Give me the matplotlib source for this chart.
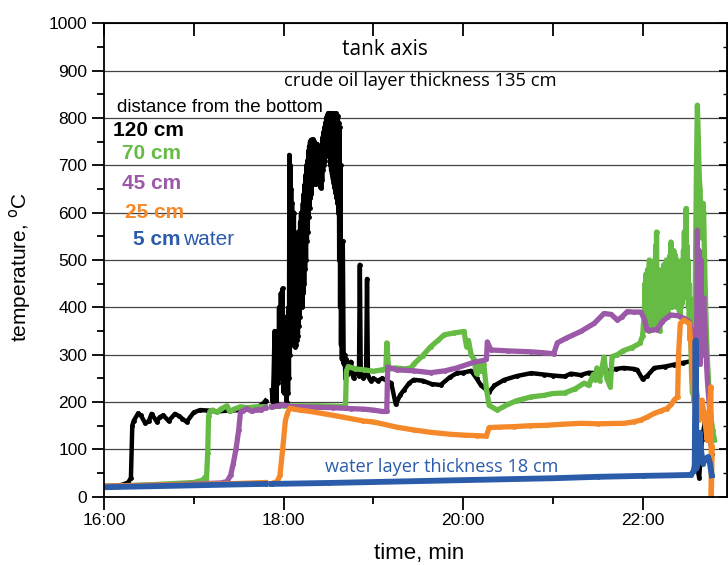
import numpy as np
import matplotlib
matplotlib.use("Agg")
import matplotlib.pyplot as plt
from matplotlib.ticker import MultipleLocator, FuncFormatter

# time in hours (16.5 = 16:30), temperature in degC; nan = gap in the record
t_120 = [16.0, 16.1, 16.2, 16.27, 16.3, 16.315, 16.33, 16.38, 16.41, 16.46, 16.5, 16.53, 16.59, 16.62,
         16.66, 16.72, 16.79, 16.84, 16.87, 16.92, 17.0, 17.07, 17.16, 17.25, 17.4, 17.55, 17.66, 17.72,
         17.78, 17.8, 17.84,
         17.87, 17.88, 17.89, 17.90, 17.905, 17.91, 17.92, 17.93, 17.94, 17.95, 17.96, 17.97, 17.98, 17.99,
         18.00, 18.01, 18.02, 18.03, 18.035]
v_120 = [22, 23, 25, 30, 40, 150, 160, 176, 172, 155, 160, 175, 158, 168,
         172, 160, 175, 170, 165, 158, 178, 183, 182, 180, 182, 183, 185, 190,
         198, 203, np.nan,
         225, 200, 260, 350, 220, 300, 200, 280, 240, 400, 250, 430, 280, 440,
         220, 380, 230, 350, 200]
# densest part of the record, logged every 0.005 h (18.04 ... 18.65)
t_120 += list(np.round(np.arange(18.04, 18.6501, 0.005), 3))
v_120 += [230, 380, 220, 400, 250, 722, 300, 700, 400, 650, 350, 620, 330, 580, 320, 600, 340, 520,
          316, 540, 320, 500, 330, 540, 340, 560, 360, 520, 380, 580, 400, 600, 420, 580, 400, 620,
          430, 640, 450, 660, 480, 680, 500, 700, 540, 710, 560, 730, 590, 740, 610, 750, 630, 754,
          640, 750, 660, 755, 670, 752, 660, 748, 665, 745, 660, 740, 670, 745, 680, 740, 670, 730,
          660, 720, 655, 730, 652, 740, 670, 760, 690, 770, 700, 780, 710, 790, 720, 800, 730, 805,
          740, 810, 730, 808, 720, 810, 700, 805, 690, 810, 680, 806, 670, 810, 660, 805, 650, 808,
          640, 810, 630, 800, 620, 805, 600, 790, 500, 780, 400, 700, 320, 500, 290]
t_120 += [18.66, 18.67, 18.68, 18.69, 18.70, 18.72, 18.75, 18.78, 18.81, 18.84, 18.85, 18.86, 18.89,
          18.92, 18.93, 18.94, 18.97,
          19.0, 19.05, 19.1, 19.15, 19.2, 19.25, 19.3, 19.34, 19.4, 19.45, 19.55, 19.65, 19.75, 19.85,
          19.93, 20.0, 20.09, 20.15, 20.2, 20.29, 20.35, 20.46, 20.6, 20.76, 20.9, 21.0, 21.13, 21.2,
          21.31, 21.4, 21.49, 21.6, 21.7, 21.79, 21.9, 21.94, 22.0, 22.05, 22.13, 22.25, 22.35, 22.45,
          22.54, 22.58, 22.59, 22.60, 22.61, 22.63, 22.66, 22.7, 22.74, 22.77]
v_120 += [540, 280, 300, 250, 290, 260, 285, 250, 270, 255, 490, 265, 250,
          270, 460, 255, 245,
          250, 245, 250, 245, 240, 195, 215, 225, 240, 247, 245, 238, 236, 252,
          261, 262, 266, 250, 235, 221, 235, 247, 255, 261, 258, 256, 254, 260,
          257, 262, 261, 265, 270, 272, 270, 268, 248, 255, 272, 275, 279, 283,
          286, 285, 510, 200, 60, 40, 120, 165, 150, 90]

t_70 = [16.0, 16.5, 17.0, 17.1, 17.13, 17.14, 17.155, 17.165, 17.18, 17.21, 17.26, 17.3, 17.37, 17.4,
        17.45, 17.52, 17.6, 17.7, 17.8, 17.84,
        17.87, 18.0, 18.2, 18.4, 18.6, 18.69, 18.7, 18.72, 18.8, 18.9, 19.0, 19.1, 19.14, 19.15, 19.17,
        19.25, 19.35, 19.42, 19.45, 19.55, 19.64, 19.72, 19.79, 19.9, 20.01, 20.04, 20.06, 20.09, 20.12,
        20.15, 20.18, 20.2, 20.23, 20.26, 20.29, 20.38, 20.5, 20.6, 20.76, 20.9, 21.0, 21.13, 21.25, 21.35,
        21.4, 21.45, 21.47, 21.49, 21.52, 21.57, 21.6, 21.64, 21.66, 21.72, 21.78, 21.88, 21.97, 22.0,
        22.01]
v_70 = [22, 25, 30, 35, 42, 30, 92, 170, 180, 183, 178, 185, 192, 180,
        185, 190, 188, 190, 190, np.nan,
        190, 192, 192, 192, 191, 190, 265, 275, 270, 268, 265, 268, 270, 325, 270,
        272, 270, 272, 280, 298, 317, 330, 342, 346, 349, 316, 330, 300, 290,
        260, 285, 265, 280, 228, 193, 183, 195, 203, 211, 214, 218, 219, 228, 240,
        235, 258, 247, 272, 245, 295, 250, 232, 296, 300, 308, 315, 324, 340,
        366]
# burning phase, logged every 0.005 h (22.02 ... 22.555)
t_70 += list(np.round(np.arange(22.02, 22.5551, 0.005), 3))
v_70 += [380, 450, 360, 470, 400, 437, 370, 480, 390,
         460, 350, 500, 380, 470, 360, 490, 400,
         450, 370, 480, 390, 440, 360, 500, 420, 530, 400,
         559, 410, 480, 380, 460, 366, 440, 350, 470, 380,
         450, 390, 480, 370, 460, 400, 490, 380, 470, 410,
         451, 390, 500, 400, 470, 380, 490, 420, 480, 400,
         510, 430, 538, 420, 500, 400, 480, 430, 520, 410,
         490, 420, 510, 440, 465, 400, 500, 420, 480, 400,
         470, 390, 450, 380, 480, 400, 460, 409, 500, 420,
         520, 440, 560, 450, 540, 430, 609, 470, 530, 420,
         500, 400, 450, 366, 420, 330, 380, 300, 260, 240, 219]
t_70 += [22.565, 22.58, 22.59, 22.60, 22.61, 22.62, 22.63, 22.64, 22.65, 22.66, 22.67, 22.68, 22.69,
         22.70, 22.71, 22.72, 22.74, 22.76, 22.78, 22.80]
v_70 += [260, 350, 500, 700, 827, 760, 680, 648, 580, 547, 620, 600, 500,
         420, 350, 296, 220, 170, 140, 120]

t_45 = [16.0, 16.5, 17.0, 17.3, 17.37, 17.41, 17.44, 17.47, 17.5, 17.52, 17.55, 17.59, 17.65, 17.7,
        17.75, 17.8, 17.84,
        17.87, 17.95, 17.99, 18.1, 18.18, 18.35, 18.55, 18.75, 18.89, 19.0, 19.1, 19.15, 19.16, 19.26,
        19.45, 19.64, 19.8, 19.93, 20.12, 20.23, 20.26, 20.27, 20.31, 20.5, 20.76, 20.9, 21.01, 21.05,
        21.15, 21.31, 21.46, 21.57, 21.65, 21.72, 21.77, 21.83, 21.9, 21.98, 22.02, 22.05, 22.1, 22.16,
        22.22, 22.31, 22.4, 22.46, 22.52, 22.56, 22.58, 22.6, 22.61, 22.62, 22.63, 22.64, 22.65, 22.66,
        22.68, 22.7, 22.72, 22.74, 22.76]
v_45 = [22, 24, 27, 29, 32, 45, 70, 100, 140, 178, 182, 186, 180, 184,
        183, 188, np.nan,
        190, 192, 194, 190, 190, 189, 188, 186, 185, 183, 180, 180, 274, 268,
        266, 262, 266, 272, 284, 288, 290, 327, 310, 308, 306, 304, 302, 325,
        335, 349, 366, 387, 385, 373, 380, 391, 390, 390, 375, 352, 352, 353,
        370, 384, 382, 377, 370, 340, 317, 280, 563, 300, 520, 280, 500, 300,
        420, 330, 250, 200, 150]

t_25 = [16.0, 16.5, 17.0, 17.5, 17.8, 17.84,
        17.87, 17.93, 17.96, 17.99, 18.02, 18.04, 18.07, 18.12, 18.18, 18.3, 18.55, 18.89, 19.0, 19.26,
        19.45, 19.64, 19.85, 20.01, 20.15, 20.26, 20.29, 20.4, 20.57, 20.75, 20.94, 21.1, 21.31, 21.5,
        21.79, 21.9, 21.98, 22.05, 22.13, 22.2, 22.27, 22.32, 22.35, 22.39, 22.4, 22.42, 22.46, 22.49,
        22.52, 22.55, 22.57, 22.59, 22.61, 22.63, 22.66, 22.68, 22.72, 22.74, 22.76, 22.765, 22.775]
v_25 = [22, 24, 26, 28, 30, np.nan,
        28, 32, 45, 100, 160, 175, 187, 185, 183, 180, 172, 160, 158, 147,
        141, 136, 132, 130, 129, 128, 146, 147, 148, 150, 151, 153, 155, 154,
        155, 158, 162, 168, 176, 181, 186, 195, 204, 211, 300, 366, 373, 370,
        366, 290, 200, 240, 211, 162, 204, 180, 119, 170, 232, 0, 105]

t_5 = [16.0, 16.5, 17.0, 17.5, 17.8, 17.84,
       17.87, 18.5, 19.0, 19.5, 20.0, 20.5, 21.0, 21.5, 22.0, 22.3, 22.54, 22.57, 22.58, 22.59, 22.595,
       22.60, 22.62, 22.64, 22.65, 22.67, 22.7, 22.73, 22.75, 22.77]
v_5 = [20, 22, 24, 26, 27, np.nan,
       27, 29, 31, 33, 35, 37, 39, 42, 44, 45, 46, 55, 66, 330, 183,
       60, 125, 135, 100, 70, 80, 84, 70, 45]

series = [
    (t_120, v_120, "black", 3.2),
    (t_70, v_70, "#66bb44", 3.8),
    (t_45, v_45, "#9b59a8", 3.8),
    (t_25, v_25, "#f5892a", 3.8),
    (t_5, v_5, "#2a5caa", 4.2),
]

plt.rcParams["font.family"] = ["Liberation Sans", "DejaVu Sans"]
fig = plt.figure(figsize=(7.28, 5.65), dpi=100)
ax = fig.add_axes([104 / 728, 1 - 496.7 / 565, 623 / 728, 473.4 / 565])

for t, v, c, w in series:
    ax.plot(t, v, color=c, lw=w, marker="o", ms=3.5, mew=0, solid_joinstyle="round")

ax.set_xlim(16.0, 22.94)
ax.set_ylim(0, 1000)
for y in range(100, 1000, 100):
    ax.axhline(y, color="#444444", lw=0.9, zorder=0)

ax.xaxis.set_major_locator(MultipleLocator(2))
ax.xaxis.set_minor_locator(MultipleLocator(1))
ax.xaxis.set_major_formatter(FuncFormatter(lambda x, _: "%d:00" % int(round(x))))
ax.yaxis.set_major_locator(MultipleLocator(100))
ax.yaxis.set_minor_locator(MultipleLocator(50))
ax.tick_params(axis="both", which="both", direction="out", width=1.3, labelsize=12.5, pad=3)
ax.tick_params(axis="both", which="major", length=9)
ax.tick_params(axis="both", which="minor", length=5)
for s in ax.spines.values():
    s.set_linewidth(1.3)

# top and right ticks pointing inward
top = ax.secondary_xaxis("top")
top.xaxis.set_major_locator(MultipleLocator(1))
top.tick_params(direction="in", length=9, width=1.3, labeltop=False)
right = ax.secondary_yaxis("right")
right.yaxis.set_major_locator(MultipleLocator(100))
right.yaxis.set_minor_locator(MultipleLocator(50))
right.tick_params(which="major", direction="in", length=6, width=1.3, labelright=False)
right.tick_params(which="minor", direction="in", length=3, width=1.0, labelright=False)

ax.set_xlabel("time, min", fontsize=16)
ax.xaxis.set_label_coords(0.506, -0.098)
ax.set_ylabel(r"temperature, $^{\mathrm{o}}$C", fontsize=15)
ax.yaxis.set_label_coords(-0.114, 0.485)

myr = ["Open Sans", "DejaVu Sans"]
ax.text(0.451, 0.944, "tank axis", transform=ax.transAxes, ha="center", va="center",
        fontsize=15, family=myr)
ax.text(0.508, 0.878, "crude oil layer thickness 135 cm", transform=ax.transAxes, ha="center",
        va="center", fontsize=13.2, family=myr)
ax.text(0.5417, 0.0627, "water layer thickness 18 cm", transform=ax.transAxes, ha="center",
        va="center", fontsize=13.1, family=myr, color="#2a5caa")

ax.text(0.021, 0.823, "distance from the bottom", transform=ax.transAxes, va="center", fontsize=13.5)
labels = [("120 cm", "black", 0.0144, 0.774), ("70 cm", "#66bb44", 0.0289, 0.726),
          ("45 cm", "#9b59a8", 0.0289, 0.662), ("25 cm", "#f5892a", 0.0337, 0.601),
          ("5 cm", "#2a5caa", 0.0465, 0.544)]
for txt, c, x, y in labels:
    ax.text(x, y, txt, transform=ax.transAxes, va="center", fontsize=15, fontweight="bold", color=c)
ax.text((183 - 104) / 623, 0.544, "water", transform=ax.transAxes, va="center", fontsize=15,
        color="#2a5caa")

fig.savefig("out.png", dpi=100)
